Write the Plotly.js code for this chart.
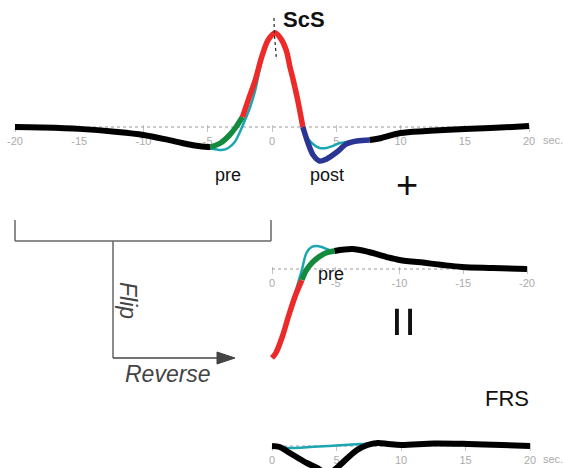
<!DOCTYPE html>
<html>
<head>
<meta charset="utf-8">
<script src="https://cdn.plot.ly/plotly-3.0.1.min.js"></script>
<style>html,body{margin:0;padding:0;background:#fff;}#chart{width:564px;height:468px;}</style>
</head>
<body>
<div id="chart"></div>
<script>
// ---------- DATA ----------
// Panel 1: ScS (seconds, relative amplitude; peak = 1)
const scsCyanX  = [-20,-15,-10,-8,-6,-5,-4.3,-3.9,-3.4,-2.9,-2.5,-2.1,-1.7,-1.3,-0.8,-0.3,0.25,0.65,1.1,1.4,1.65,2.0,2.4,2.7,3.1,3.7,4.25,4.75,5.3,5.8,6.6,7.6,10,15,20];
const scsCyanY  = [0,-0.02,-0.085,-0.149,-0.2,-0.223,-0.24,-0.245,-0.223,-0.16,-0.053,0.074,0.213,0.394,0.713,0.915,0.995,0.947,0.819,0.638,0.5,0.287,0,-0.106,-0.17,-0.223,-0.223,-0.2,-0.17,-0.16,-0.149,-0.138,-0.064,-0.021,0.01];
const scsBlackLX = [-20,-18,-15,-12,-10,-8,-7,-6,-5,-4.8];
const scsBlackLY = [0,-0.005,-0.02,-0.053,-0.085,-0.14,-0.17,-0.197,-0.213,-0.213];
const scsGreenX = [-4.8,-4,-3.3,-2.8,-2.3];
const scsGreenY = [-0.213,-0.17,-0.085,0,0.106];
const scsRedX   = [-2.3,-1.85,-1.3,-0.8,-0.3,0.25,0.65,1.1,1.4,1.65,2.0,2.4];
const scsRedY   = [0.106,0.287,0.5,0.745,0.926,1.0,0.947,0.819,0.638,0.5,0.287,0];
const scsBlueX  = [2.4,2.8,3.2,3.7,4.25,5.05,5.8,6.6,7.6];
const scsBlueY  = [0,-0.17,-0.298,-0.362,-0.34,-0.266,-0.18,-0.149,-0.138];
const scsBlackRX = [7.6,8.5,10,12,15,17,20];
const scsBlackRY = [-0.138,-0.117,-0.064,-0.043,-0.021,-0.011,0.01];

// Panel 2: flipped and reversed pre-ScS part
const revRedX   = [0,-0.3,-0.8,-1.3,-1.85,-2.34];
const revRedY   = [-0.967,-0.913,-0.739,-0.511,-0.283,-0.12];
const revGreenX = [-2.34,-2.7,-3.2,-3.9,-4.5,-4.9];
const revGreenY = [-0.12,-0.011,0.076,0.152,0.185,0.196];
const revBlackX = [-4.9,-6.3,-7.6,-9,-10,-12.1,-13.4,-14.9,-17.3,-20];
const revBlackY = [0.196,0.217,0.185,0.13,0.098,0.065,0.043,0.022,0.011,0];
const revCyanX  = [0,-0.3,-0.8,-1.3,-1.95,-2.34,-2.7,-3.1,-3.5,-3.9,-4.3,-4.7,-6.3,-9,-12,-15,-20];
const revCyanY  = [-0.967,-0.913,-0.728,-0.489,-0.196,-0.011,0.174,0.239,0.25,0.239,0.217,0.196,0.212,0.125,0.065,0.022,0];

// Panel 3: FRS
const frsBlackX = [0,0.6,1.25,1.9,2.7,3.5,4.3,5.1,5.85,6.6,7.4,8.2,9,10,12.6,15.2,17.8,20];
const frsBlackY = [0,-0.011,-0.065,-0.12,-0.185,-0.239,-0.304,-0.228,-0.13,-0.043,0.011,0.033,0.022,0.011,0.027,0.022,0.011,0];
const frsCyanX  = [0,1.2,2.5,4.3,6.9,8,10,15,20];
const frsCyanY  = [0,-0.022,-0.016,0,0.022,0.027,0.016,0.011,0];

// Tick labels
const fwdTickVals = [-20,-15,-10,-5,0,5,10,15,20];
const fwdTickText = ['-20','-15','-10','-5','0','5','10','15','20'];
const revTickVals = [0,-5,-10,-15,-20];
const revTickText = ['0','-5','-10','-15','-20'];
const frsTickVals = [0,5,10,15,20];
const frsTickText = ['0','5','10','15','20'];

// ---------- LAYOUT HELPERS ----------
const W = 564, H = 468;
const PX = p => p / W;
const PY = p => 1 - p / H;
function yAx(top, bottom, base, ppu) {
  return {visible:false, domain:[1 - bottom/H, 1 - top/H], range:[(base-bottom)/ppu, (base-top)/ppu], fixedrange:true};
}
function xAx(left, right, zeroPx, ppu, reversed, base, vals, text) {
  const range = reversed ? [(zeroPx-left)/ppu, (zeroPx-right)/ppu] : [(left-zeroPx)/ppu, (right-zeroPx)/ppu];
  return {domain:[left/W, right/W], range:range, anchor:'free', position:PY(base-3.5),
    showline:false, showgrid:false, zeroline:false, ticks:'outside', ticklen:7, tickwidth:1,
    tickcolor:'#c4c4c4', tickvals:vals, ticktext:text, tickfont:{size:11, color:'#ababab', family:'Liberation Sans, Arial, sans-serif'},
    automargin:false, layer:'below traces', fixedrange:true};
}

const RED = '#ec2a2a', GREEN = '#138a3e', BLUE = '#2b3593', CYAN = '#1aa6b2', BLK = '#000000';
function ln(x, y, color, width, ax, extra) {
  return Object.assign({type:'scatter', mode:'lines', x:x, y:y, xaxis:'x'+ax, yaxis:'y'+ax,
    line:{color:color, width:width, shape:'spline', smoothing:0.9}, hoverinfo:'skip', showlegend:false}, extra||{});
}
function baseLine(x0, x1, ax) {
  return {type:'scatter', mode:'lines', x:[x0,x1], y:[0,0], xaxis:'x'+ax, yaxis:'y'+ax,
    line:{color:'#9a9a9a', width:1, dash:'dot'}, hoverinfo:'skip', showlegend:false};
}

const traces = [
  baseLine(-20, 20, ''),
  ln(scsCyanX, scsCyanY, CYAN, 2.5, ''),
  ln(scsBlackLX, scsBlackLY, BLK, 6, ''),
  ln(scsBlackRX, scsBlackRY, BLK, 6, ''),
  ln(scsGreenX, scsGreenY, GREEN, 5.5, ''),
  ln(scsRedX, scsRedY, RED, 5.5, ''),
  ln(scsBlueX, scsBlueY, BLUE, 5.5, ''),

  baseLine(0, -20, '2'),
  ln(revCyanX, revCyanY, CYAN, 2.5, '2'),
  ln(revBlackX, revBlackY, BLK, 6, '2'),
  ln(revGreenX, revGreenY, GREEN, 5.5, '2'),
  ln(revRedX, revRedY, RED, 5.5, '2'),

  baseLine(0, 20, '3'),
  ln(frsCyanX, frsCyanY, CYAN, 2.5, '3'),
  ln(frsBlackX, frsBlackY, BLK, 6, '3')
];

const font = 'Liberation Sans, Arial, sans-serif';
function txt(x, y, text, size, opts) {
  return Object.assign({xref:'paper', yref:'paper', x:PX(x), y:PY(y), text:text, showarrow:false,
    xanchor:'center', yanchor:'middle', font:{family:font, size:size, color:'#111'}}, opts||{});
}

const annotations = [
  txt(304, 20, '<b>ScS</b>', 22),
  txt(228, 175, 'pre', 18),
  txt(327, 175, 'post', 18),
  txt(407, 185, '+', 38),
  txt(553, 140, 'sec.', 11, {font:{family:font, size:11, color:'#ababab'}}),
  txt(331, 274, 'pre', 18),
  txt(405, 322, '=', 54, {textangle:90}),
  txt(507, 398, 'FRS', 22),
  txt(553, 459, 'sec.', 11, {font:{family:font, size:11, color:'#ababab'}}),
  txt(128, 300, 'Flip', 23, {textangle:90, font:{family:font, size:23, color:'#444', style:'italic'}}),
  txt(168, 374, 'Reverse', 23, {font:{family:font, size:23, color:'#444', style:'italic'}})
];

const G = '#666';
const shapes = [
  {type:'line', xref:'paper', yref:'paper', x0:PX(15), y0:PY(220), x1:PX(15), y1:PY(241), line:{color:G, width:1.5}},
  {type:'line', xref:'paper', yref:'paper', x0:PX(15), y0:PY(241), x1:PX(271), y1:PY(241), line:{color:G, width:1.5}},
  {type:'line', xref:'paper', yref:'paper', x0:PX(271), y0:PY(220), x1:PX(271), y1:PY(241), line:{color:G, width:1.5}},
  {type:'line', xref:'paper', yref:'paper', x0:PX(113), y0:PY(241), x1:PX(113), y1:PY(358), line:{color:G, width:1.5}},
  {type:'line', xref:'paper', yref:'paper', x0:PX(113), y0:PY(358), x1:PX(222), y1:PY(358), line:{color:'#444', width:1.5}},
  {type:'path', xref:'paper', yref:'paper',
   path:'M '+PX(217)+' '+PY(352)+' L '+PX(235)+' '+PY(358)+' L '+PX(217)+' '+PY(364)+' Z',
   fillcolor:'#444', line:{color:'#444', width:1}},
  {type:'path', xref:'paper', yref:'paper',
   path:'M '+PX(274)+' '+PY(18)+' L '+PX(274.3)+' '+PY(33)+' L '+PX(276.5)+' '+PY(60),
   line:{color:'#222', width:1.2, dash:'dot'}}
];

const layout = {
  width:W, height:H, margin:{l:0, r:0, t:0, b:0}, paper_bgcolor:'#fff', plot_bgcolor:'rgba(0,0,0,0)',
  showlegend:false, font:{family:font},
  xaxis:  xAx(2, 542, 272, 12.85, false, 127, fwdTickVals, fwdTickText),
  yaxis:  Object.assign(yAx(5, 200, 127, 94), {anchor:'x'}),
  xaxis2: xAx(262, 540, 272, 12.75, true, 269, revTickVals, revTickText),
  yaxis2: Object.assign(yAx(228, 375, 269, 92), {anchor:'x2'}),
  xaxis3: xAx(262, 542, 272, 12.9, false, 446, frsTickVals, frsTickText),
  yaxis3: Object.assign(yAx(425, 468, 446, 92), {anchor:'x3'}),
  annotations:annotations, shapes:shapes
};

Plotly.newPlot('chart', traces, layout, {staticPlot:true, displayModeBar:false});
</script>
</body>
</html>
